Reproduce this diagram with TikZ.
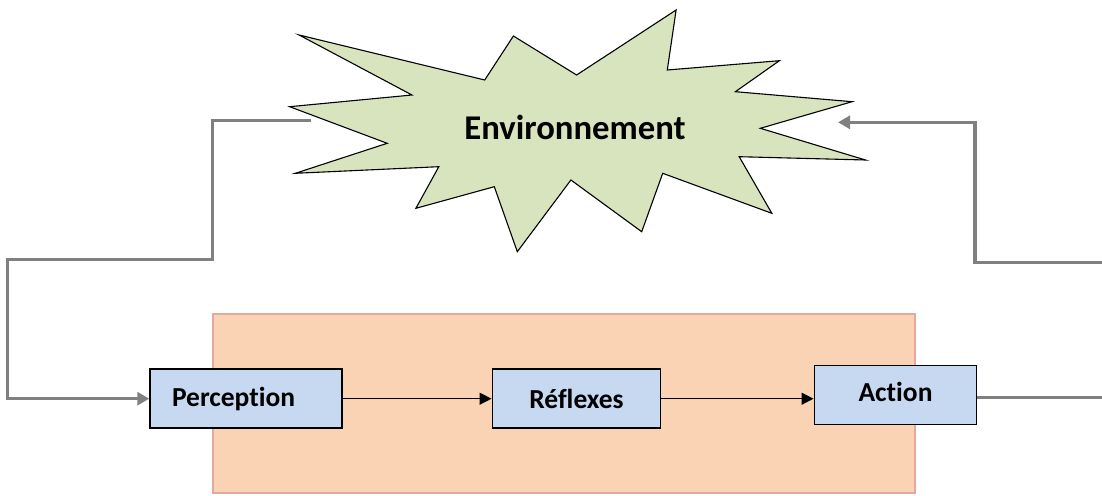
\documentclass[tikz,border=0pt]{standalone}
\usepackage{fontspec}
\setmainfont{Carlito}[Ligatures=NoCommon]
\usetikzlibrary{arrows.meta}
\definecolor{starfill}{RGB}{215,228,189}
\definecolor{boxfill}{RGB}{198,217,241}
\definecolor{zonefill}{RGB}{250,211,180}
\definecolor{zoneline}{RGB}{229,168,160}
\definecolor{feedgray}{RGB}{128,128,128}
\tikzset{
  stepbox/.style={draw=black, line width=1.5pt, fill=boxfill, minimum height=59pt,
    font=\fontsize{27.5}{32}\selectfont\bfseries, inner sep=0pt},
  flow/.style={draw=black, line width=1.3pt, -{Triangle[length=12pt,width=12pt]}},
  feed/.style={draw=feedgray, line width=3.3pt, line join=miter},
  feedarrow/.style={feed, -{Triangle[length=12pt,width=13pt]}}
}
\begin{document}
\begin{tikzpicture}[x=1pt,y=-1pt]
  \useasboundingbox (0,0) rectangle (1102,495);
  % agent area
  \draw[zoneline, line width=1.2pt, fill=zonefill] (213,314) rectangle (915,493);
  % environment burst
  \draw[black, line width=1.1pt, fill=starfill, line join=miter]
    (299.1,35) -- (484.7,80) -- (513.4,36) -- (576.6,75) -- (676.1,10) -- (667.3,70)
    -- (779.4,60.7) -- (735.4,91.7) -- (852.1,101.7) -- (760.3,128.3) -- (865.5,160)
    -- (739.2,156.7) -- (771.8,213.3) -- (662.7,173.3) -- (641.7,231.7) -- (570.9,180)
    -- (517.3,251.7) -- (494.3,186.7) -- (415.9,208.3) -- (438.8,166.7) -- (295.3,173.3)
    -- (387.2,143.3) -- (289.6,106.7) -- (412.0,95) -- cycle;
  \node[font=\fontsize{34.7}{40}\selectfont\bfseries] (env) at (575,127) {Environnement};
  % processing chain
  \node[stepbox, minimum width=192pt, text width=148pt, align=left, inner xsep=22pt]
    (perc) at (246,398.7) {Perception};
  \node[stepbox, minimum width=168.4pt] (refl) at (576.5,398.7) {Réflexes};
  \node[stepbox, minimum width=162.4pt, minimum height=58.6pt] (act) at (895.5,395)
    {\raisebox{6pt}{Action}};
  \draw[flow] (perc.east) -- (refl.west);
  \draw[flow] (refl.east) -- (refl.east -| act.west);
  % feedback loops
  \coordinate (envout) at (311,120.7);
  \coordinate (envin) at (838,122.3);
  \draw[feedarrow] (envout) -- (212.3,120.7) -- (212.3,259.3) -- (7.3,259.3)
    |- (perc.west);
  \draw[feedarrow] ([yshift=-2.7pt]act.east) -- (1110,397.7) -- (1110,262.7)
    -- (975,262.7) -- (975,122.3) -- (envin);
\end{tikzpicture}
\end{document}
